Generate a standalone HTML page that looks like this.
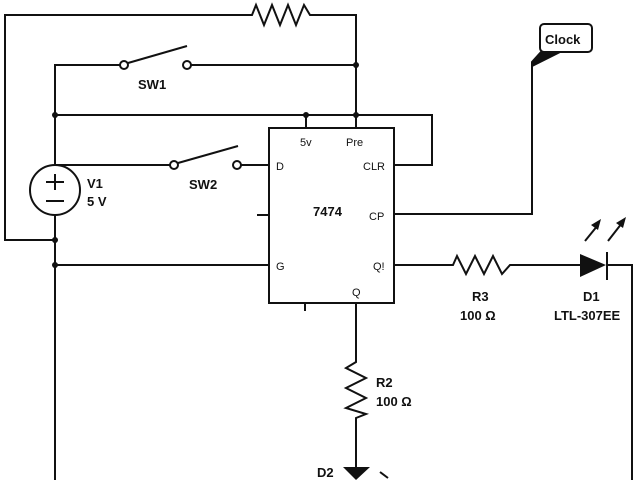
<!DOCTYPE html><html><head><style>body{margin:0;background:#fff}svg{display:block}text{font-family:"Liberation Sans",sans-serif;fill:#111}</style></head><body>
<svg width="640" height="480" viewBox="0 0 640 480">
<g stroke="#111" stroke-width="2" fill="none">
<polyline points="55,240 5,240 5,15 252,15 256,5 264,25 272,5 280,25 288,5 296,25 304,5 310,15 356,15 356,128"/>
<polyline points="55,265 55,480"/>
<line x1="55" y1="215" x2="55" y2="265"/>
<polyline points="55,165 55,65 120,65"/>
<line x1="191" y1="65" x2="356" y2="65"/>
<line x1="128" y1="63" x2="187" y2="46"/>
<polyline points="55,115 432,115 432,165 394,165"/>
<line x1="306" y1="115" x2="306" y2="128"/>
<line x1="55" y1="165" x2="170" y2="165"/>
<line x1="178" y1="163" x2="238" y2="146"/>
<line x1="241" y1="165" x2="269" y2="165"/>
<rect x="269" y="128" width="125" height="175"/>
<line x1="257" y1="215" x2="269" y2="215"/>
<line x1="55" y1="265" x2="269" y2="265"/>
<line x1="305" y1="303" x2="305" y2="311"/>
<polyline points="394,214 532,214 532,62"/>
<polyline points="394,265 453,265 457,256 466,274 475,256 484,274 493,256 502,274 510,265 580,265"/>
<polyline points="607,265 632,265 632,480"/>
<line x1="607" y1="252" x2="607" y2="280"/>
<polyline points="356,303 356,362 346,368 366,378 346,388 366,398 346,408 366,414 356,418 356,468"/>
<line x1="585" y1="241" x2="598" y2="225"/><line x1="608" y1="241" x2="622" y2="223"/>
<line x1="380" y1="472" x2="388" y2="478"/>
</g>
<polygon points="580,254 580,277 606,265" fill="#111"/>
<polygon points="601,219 591,225 598,230" fill="#111"/><polygon points="626,217 616,223 623,228" fill="#111"/>
<polygon points="343,467 370,467 356,480" fill="#111"/>
<g fill="#fff" stroke="#111" stroke-width="2">
<circle cx="124" cy="65" r="4"/><circle cx="187" cy="65" r="4"/>
<circle cx="174" cy="165" r="4"/><circle cx="237" cy="165" r="4"/>
<circle cx="55" cy="190" r="25"/>
<path d="M541,52 L532,62 L532,66 L560,52 Z" fill="#111"/>
<rect x="540" y="24" width="52" height="28" rx="4"/>
</g>
<g stroke="#111" stroke-width="2"><line x1="46" y1="182" x2="64" y2="182"/><line x1="55" y1="174" x2="55" y2="190"/><line x1="46" y1="201" x2="64" y2="201"/></g>
<g fill="#111"><circle cx="55" cy="115" r="3"/><circle cx="306" cy="115" r="3"/><circle cx="356" cy="115" r="3"/><circle cx="356" cy="65" r="3"/><circle cx="55" cy="240" r="3"/><circle cx="55" cy="265" r="3"/></g>
<g font-size="13" font-weight="bold">
<text x="138" y="89">SW1</text><text x="189" y="189">SW2</text>
<text x="87" y="188">V1</text><text x="87" y="206">5 V</text>
<text x="313" y="216">7474</text>
<text x="545" y="44">Clock</text>
<text x="472" y="301">R3</text><text x="460" y="320">100 Ω</text>
<text x="583" y="301">D1</text><text x="554" y="320">LTL-307EE</text>
<text x="376" y="387">R2</text><text x="376" y="406">100 Ω</text>
<text x="317" y="477">D2</text>
</g>
<g font-size="11" fill="#333"><text x="300" y="146">5v</text><text x="346" y="146">Pre</text><text x="276" y="170">D</text><text x="363" y="170">CLR</text><text x="369" y="220">CP</text><text x="276" y="270">G</text><text x="373" y="270">Q!</text><text x="352" y="296">Q</text></g>
</svg></body></html>
